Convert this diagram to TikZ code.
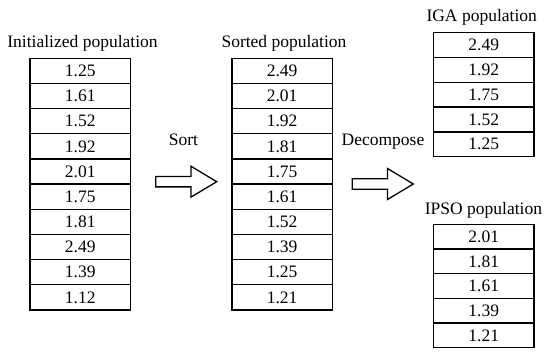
\documentclass[tikz,border=0pt]{standalone}
\usepackage{fontspec}
\setmainfont{Liberation Serif}
\usetikzlibrary{positioning}
\tikzset{
  px/.style={x=1pt, y=-1pt, font=\fontsize{17.5}{20}\selectfont},
  p cell/.style={draw, line width=1.3pt, minimum width=100.5pt, inner sep=0pt, outer sep=0pt},
  p title/.style={anchor=base, inner sep=0pt},
  p arr/.style={draw, line width=1.3pt, line join=miter},
}

\begin{document}
\begin{tikzpicture}[px]
\useasboundingbox (0,0) rectangle (550,355);
% titles
\node[p title] (ti) at (82.5,48) {Initialized population};
\node[p title] (ts) at (284,48) {Sorted population};
\node[p title] (tg) at (481.7,21.7) {IGA population};
\node[p title] (tp) at (483.5,215) {IPSO population};
% columns
\foreach \v [count=\i] in {1.25,1.61,1.52,1.92,2.01,1.75,1.81,2.49,1.39,1.12}
  \node[p cell, minimum height=25.17pt] (i\i) at (80.3,{58.3+25.17*\i-12.585}) {\v};
\foreach \v [count=\i] in {2.49,2.01,1.92,1.81,1.75,1.61,1.52,1.39,1.25,1.21}
  \node[p cell, minimum height=25.17pt] (s\i) at (282.1,{58.3+25.17*\i-12.585}) {\v};
\foreach \v [count=\i] in {2.49,1.92,1.75,1.52,1.25}
  \node[p cell, minimum height=24.8pt] (g\i) at (483.7,{32.7+24.8*\i-12.4}) {\v};
\foreach \v [count=\i] in {2.01,1.81,1.61,1.39,1.21}
  \node[p cell, minimum height=24.7pt] (p\i) at (483.7,{224.3+24.7*\i-12.35}) {\v};
% block arrows
\node[p title] (lsort) at (183.5,145.7) {Sort};
\node[p title] (ldec) at (383,145.7) {Decompose};
\coordinate (sa) at (155.7,181.7);
\coordinate (da) at (352.3,184);
\foreach \a in {sa,da}
  \draw[p arr] (\a) ++(0,-5.2) -- ++(35.2,0) -- ++(0,-10.3) -- ++(25.8,15.5)
    -- ++(-25.8,15.5) -- ++(0,-10.3) -- ++(-35.2,0) -- cycle;
\end{tikzpicture}
\end{document}
